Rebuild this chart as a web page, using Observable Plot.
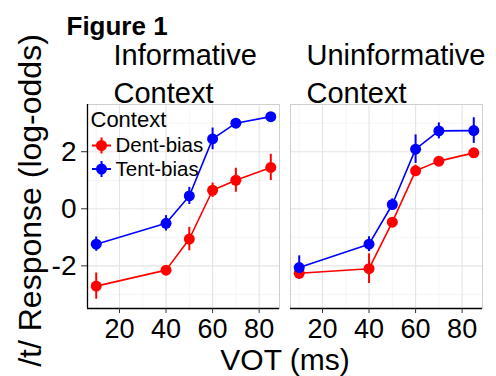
<!DOCTYPE html>
<html><head><meta charset="utf-8">
<script src="https://cdn.jsdelivr.net/npm/d3@7"></script>
<script src="https://cdn.jsdelivr.net/npm/@observablehq/plot@0.6"></script>
<style>
body{margin:0;background:#fff}
#chart{width:496px;height:376px}
</style>
</head><body><div id="chart"></div>
<script>
// ---- data ----
const vot = [10, 40, 50, 60, 70, 85];
const contexts = ["Informative Context", "Uninformative Context"];
const contextLabels = ["Informative\nContext", "Uninformative\nContext"];
const biases = ["Dent-bias", "Tent-bias"];
const biasColors = ["#ff0000", "#0000ff"];

const infDent    = [-2.71, -2.15, -1.06, 0.65, 1.00, 1.45];
const infDentErr = [ 0.46,  0.10,  0.41, 0.25, 0.42, 0.46];
const infTent    = [-1.24, -0.51,  0.45, 2.45, 3.00, 3.23];
const infTentErr = [ 0.25,  0.27,  0.30, 0.38, 0.15, 0.10];
const unDent     = [-2.26, -2.10, -0.47, 1.33, 1.67, 1.96];
const unDentErr  = [ 0.10,  0.52,  0.15, 0.20, 0.10, 0.10];
const unTent     = [-2.06, -1.24,  0.15, 2.09, 2.73, 2.74];
const unTentErr  = [ 0.41,  0.26,  0.20, 0.50, 0.28, 0.45];

const xTicks = [20, 40, 60, 80];
const xMinor = [10, 30, 50, 70, 90];
const yTicks = [-2, 0, 2];
const yMinor = [-3, -1, 1, 3];

const figureTitle = "Figure 1";
const xLabel = "VOT (ms)";
const yLabel = "/t/ Response (log-odds)";
const legendTitle = "Context";

// ---- build table ----
const series = [
  [contexts[0], biases[0], infDent, infDentErr],
  [contexts[0], biases[1], infTent, infTentErr],
  [contexts[1], biases[0], unDent, unDentErr],
  [contexts[1], biases[1], unTent, unTentErr]
];
const rows = series.flatMap(([c, b, v, e]) =>
  vot.map((x, i) => ({context: c, bias: b, vot: x, y: v[i], lo: v[i] - e[i], hi: v[i] + e[i]})));

const expand = ([a, b]) => [a - (b - a) * 0.05, b + (b - a) * 0.05];
const xDomain = expand(d3.extent(vot));
const yDomain = expand([d3.min(rows, d => d.lo), d3.max(rows, d => d.hi)]);
const inX = t => t >= xDomain[0] && t <= xDomain[1];
const inY = t => t >= yDomain[0] && t <= yDomain[1];

const first = [{context: contexts[0]}];
const font = "'Liberation Sans', Arial, sans-serif";

const keySymbol = {
  draw(ctx) {
    ctx.moveTo(-9.5, 0); ctx.lineTo(9.5, 0);
    ctx.moveTo(0, -8); ctx.lineTo(0, 8);
  }
};

const legendMarks = biases.flatMap((b, i) => {
  const d = [{context: contexts[0], bias: b}];
  const dy = 41 + i * 23.5;
  return [
    Plot.dot(d, {fx: "context", frameAnchor: "top-left", dx: 14, dy, symbol: keySymbol, stroke: "bias", strokeWidth: 2, fill: "none", r: 5}),
    Plot.dot(d, {fx: "context", frameAnchor: "top-left", dx: 14, dy, fill: "bias", r: 5.5}),
    Plot.text(d, {fx: "context", frameAnchor: "top-left", dx: 28, dy, text: "bias", textAnchor: "start", lineAnchor: "middle", fontSize: 20.5, fill: "black"})
  ];
});

const chart = Plot.plot({
  width: 496,
  height: 376,
  marginLeft: 87,
  marginRight: 14,
  marginTop: 104,
  marginBottom: 68,
  style: {fontFamily: font, color: "black", background: "white", overflow: "visible"},
  fx: {domain: contexts, axis: null, padding: 11 / 203},
  x: {domain: xDomain},
  y: {domain: yDomain},
  color: {domain: biases, range: biasColors},
  marks: [
    Plot.gridX({ticks: xMinor.filter(inX), stroke: "#f0f0f0", strokeOpacity: 1, strokeWidth: 0.7}),
    Plot.gridY({ticks: yMinor.filter(inY), stroke: "#f0f0f0", strokeOpacity: 1, strokeWidth: 0.7}),
    Plot.gridX({ticks: xTicks, stroke: "#e4e4e4", strokeOpacity: 1, strokeWidth: 1.1}),
    Plot.gridY({ticks: yTicks, stroke: "#e4e4e4", strokeOpacity: 1, strokeWidth: 1.1}),
    Plot.frame({stroke: "#cfcfcf", strokeWidth: 1}),
    Plot.ruleY([yDomain[0]], {stroke: "black", strokeWidth: 1.3}),
    Plot.ruleX([{x: xDomain[0], context: contexts[0]}], {x: "x", fx: "context", stroke: "black", strokeWidth: 1.3}),
    Plot.line(rows, {x: "vot", y: "y", z: "bias", stroke: "bias", fx: "context", strokeWidth: 1.6}),
    Plot.ruleX(rows, {x: "vot", y1: "lo", y2: "hi", stroke: "bias", fx: "context", strokeWidth: 2}),
    Plot.dot(rows, {x: "vot", y: "y", fill: "bias", r: 5.5, fx: "context"}),
    Plot.axisX({ticks: xTicks, tickSize: 5, tickPadding: 5, fontSize: 27, label: null, stroke: "#333"}),
    Plot.axisY({ticks: yTicks, tickSize: 6, tickPadding: 5, fontSize: 28, label: null, tickFormat: d => String(d), stroke: "#333"}),
    // facet titles
    Plot.text([{context: contexts[0], label: contextLabels[0]}], {fx: "context", text: "label", frameAnchor: "top-left", dx: 26, dy: -2, textAnchor: "start", lineAnchor: "bottom", lineHeight: 1.3, fontSize: 29, fill: "black"}),
    Plot.text([{context: contexts[1], label: contextLabels[1]}], {fx: "context", text: "label", frameAnchor: "top-left", dx: 16, dy: -2, textAnchor: "start", lineAnchor: "bottom", lineHeight: 1.3, fontSize: 29, fill: "black"}),
    // figure title
    Plot.text(first, {fx: "context", text: () => figureTitle, frameAnchor: "top-left", dx: -21, dy: -70, textAnchor: "start", lineAnchor: "bottom", fontSize: 26, fontWeight: "bold", fill: "black"}),
    // axis labels
    Plot.text(first, {fx: "context", text: () => yLabel, frameAnchor: "left", dx: -47, dy: -6, rotate: -90, textAnchor: "middle", lineAnchor: "bottom", fontSize: 32, fill: "black"}),
    Plot.text(first, {fx: "context", text: () => xLabel, frameAnchor: "bottom-right", dx: 5.5, dy: 61, textAnchor: "middle", lineAnchor: "bottom", fontSize: 30, fill: "black"}),
    // legend
    Plot.text(first, {fx: "context", text: () => legendTitle, frameAnchor: "top-left", dx: 3, dy: 22, textAnchor: "start", lineAnchor: "bottom", fontSize: 22, fill: "black"}),
    ...legendMarks
  ]
});
document.getElementById("chart").append(chart);
</script>
</body></html>
